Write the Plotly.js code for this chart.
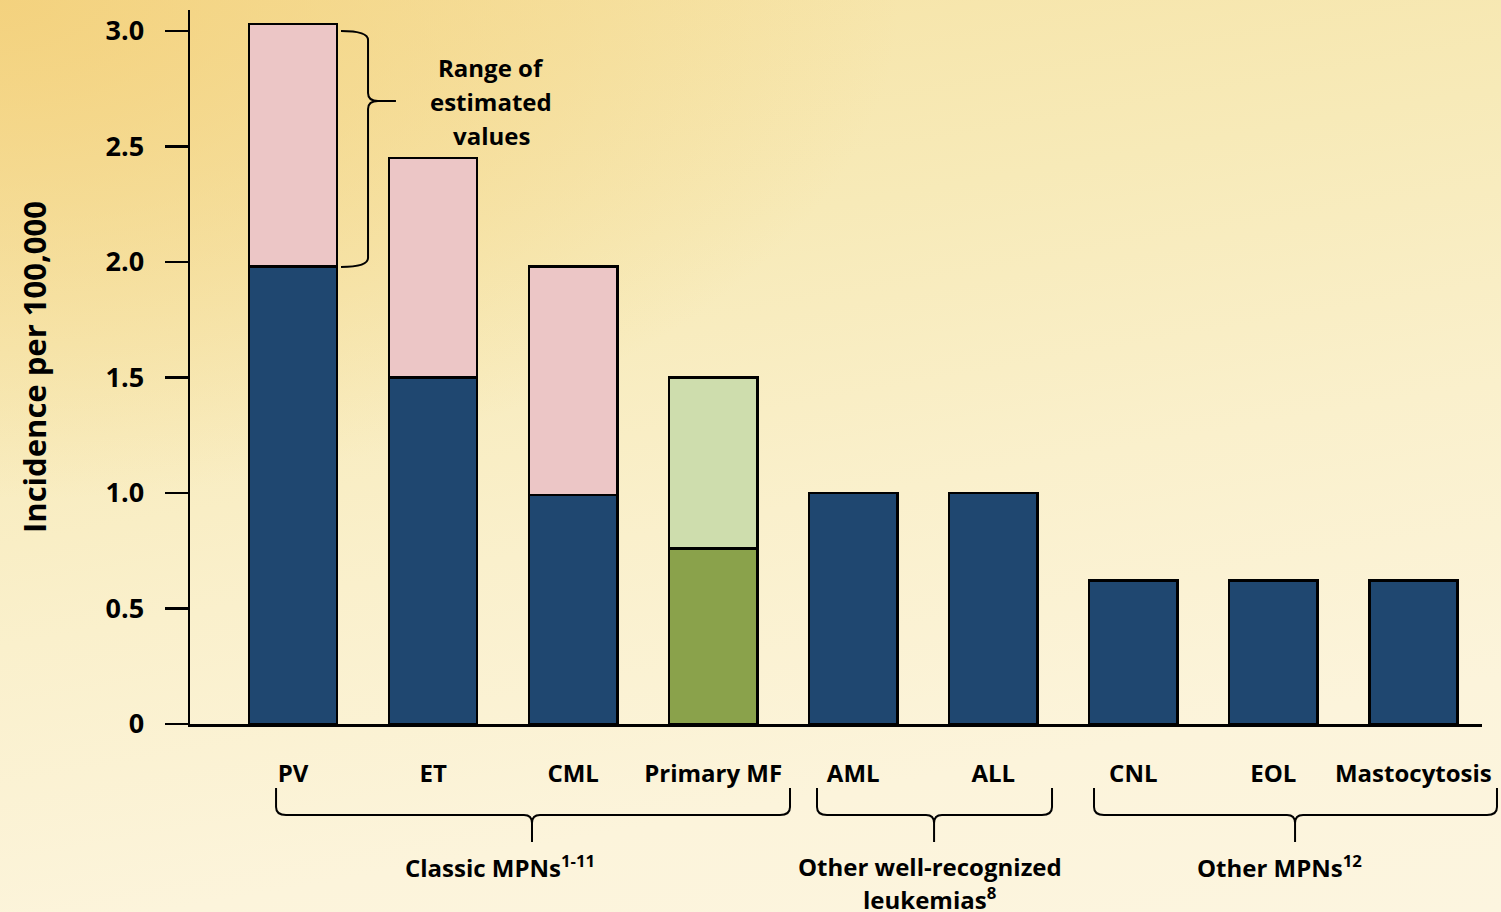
<!DOCTYPE html>
<html>
<head>
<meta charset="utf-8">
<script src="https://cdn.plot.ly/plotly-3.0.1.min.js"></script>
<style>
html,body{margin:0;padding:0;width:1501px;height:912px;overflow:hidden;}
body{
  background:
    radial-gradient(ellipse 900px 500px at 0px 0px, rgba(243,207,120,0.85), rgba(243,207,120,0) 100%),
    linear-gradient(170deg, #F6E2A2 0%, #F7EAB8 30%, #FAF0CC 55%, #FCF4DB 80%, #FCF5DF 100%);
}
#chart{width:1501px;height:912px;}
</style>
</head>
<body>
<div id="chart"></div>
<script>
// ---- data ----
const categories = ['PV', 'ET', 'CML', 'Primary MF', 'AML', 'ALL', 'CNL', 'EOL', 'Mastocytosis'];
const lowEstimate = [1.98, 1.5, 0.99, 0.76, 1.0, 1.0, 0.62, 0.62, 0.62];
const highEstimate = [3.03, 2.45, 1.98, 1.5, null, null, null, null, null];
const yTickVals = [0, 0.5, 1.0, 1.5, 2.0, 2.5, 3.0];
const yTickText = ['0', '0.5', '1.0', '1.5', '2.0', '2.5', '3.0'];
const groupLabels = ['Classic MPNs<sup>1-11</sup>', 'Other well-recognized', 'leukemias<sup>8</sup>', 'Other MPNs<sup>12</sup>'];
const rangeLabelLines = ['Range of', 'estimated', 'values'];

// ---- styles ----
const FONT = '"Open Sans", Lato, sans-serif';
const baseColors = categories.map(c => c === 'Primary MF' ? '#8AA24B' : '#1F4770');
const rangeColors = categories.map(c => c === 'Primary MF' ? '#CEDDAD' : '#ECC6C6');
const rangeSize = highEstimate.map((h, i) => h === null ? null : h - lowEstimate[i]);

const W = 1501, H = 912;
const L = 190, R = 1482, T = 10, B = 724;
const px = x => (x - L) / (R - L);
const py = y => (B - y) / (B - T);
function P(x, y) { return px(x).toFixed(4) + ',' + py(y).toFixed(4); }

function hBrace(x0, x1, xm, yTop, yMid, yTip) {
  return 'M' + P(x0, yTop) + ' L' + P(x0, yMid - 8) + ' Q' + P(x0, yMid) + ' ' + P(x0 + 10, yMid) +
    ' L' + P(xm - 8, yMid) + ' Q' + P(xm, yMid) + ' ' + P(xm, yMid + 8) + ' L' + P(xm, yTip) +
    ' M' + P(xm, yMid + 8) + ' Q' + P(xm, yMid) + ' ' + P(xm + 8, yMid) +
    ' L' + P(x1 - 10, yMid) + ' Q' + P(x1, yMid) + ' ' + P(x1, yMid - 8) + ' L' + P(x1, yTop);
}
function vBrace(x0, xs, xTip, y0, y1, ym) {
  return 'M' + P(x0, y0) + ' Q' + P(xs, y0) + ' ' + P(xs, y0 + 9) + ' L' + P(xs, ym - 8) +
    ' Q' + P(xs, ym) + ' ' + P(xs + 10, ym) + ' L' + P(xTip, ym) +
    ' M' + P(xs + 10, ym) + ' Q' + P(xs, ym) + ' ' + P(xs, ym + 8) + ' L' + P(xs, y1 - 9) +
    ' Q' + P(xs, y1) + ' ' + P(x0, y1);
}

const traces = [
  {
    type: 'bar', x: categories, y: lowEstimate, width: 0.63,
    marker: { color: baseColors, line: { color: '#000', width: 2.5 } },
    hoverinfo: 'x+y', showlegend: false
  },
  {
    type: 'bar', x: categories, y: rangeSize, width: 0.63,
    marker: { color: rangeColors, line: { color: '#000', width: 2.5 } },
    hoverinfo: 'x+y', showlegend: false
  }
];

const shapes = [
  { type: 'path', xref: 'paper', yref: 'paper', path: hBrace(276, 790, 532, 788, 815, 842), line: { color: '#000', width: 2 } },
  { type: 'path', xref: 'paper', yref: 'paper', path: hBrace(817, 1052, 934, 788, 815, 842), line: { color: '#000', width: 2 } },
  { type: 'path', xref: 'paper', yref: 'paper', path: hBrace(1094, 1497, 1295, 788, 815, 842), line: { color: '#000', width: 2 } },
  { type: 'path', xref: 'paper', yref: 'paper', path: vBrace(341, 368, 396, 31, 267, 101), line: { color: '#000', width: 2 } }
];

const annFont = { family: FONT, size: 24, color: '#000', weight: 'bold' };
function ann(text, x, y) {
  return { xref: 'paper', yref: 'paper', x: px(x), y: py(y), text: '<b>' + text + '</b>', showarrow: false,
    font: annFont, xanchor: 'center', yanchor: 'middle', align: 'center', borderpad: 0 };
}
const annotations = [
  ann(rangeLabelLines[0], 491, 67),
  ann(rangeLabelLines[1], 491, 101),
  ann(rangeLabelLines[2], 491, 135),
  ann(groupLabels[0], 500, 866),
  ann(groupLabels[1], 930, 866),
  ann(groupLabels[2], 930, 898),
  ann(groupLabels[3], 1279, 866)
];

const layout = {
  width: W, height: H,
  margin: { l: L, r: W - R, t: T, b: H - B, pad: 0 },
  paper_bgcolor: 'rgba(0,0,0,0)',
  plot_bgcolor: 'rgba(0,0,0,0)',
  barmode: 'stack',
  showlegend: false,
  font: { family: FONT, color: '#000' },
  xaxis: {
    type: 'category',
    range: [-0.736, 8.49],
    showline: true, linecolor: '#000', linewidth: 2.5,
    ticks: '', showgrid: false, zeroline: false,
    tickfont: { family: FONT, size: 24, color: '#000', weight: 'bold' },
    ticklabelstandoff: 27
  },
  yaxis: {
    range: [0, 3.09],
    showline: true, linecolor: '#000', linewidth: 2.5,
    ticks: 'outside', ticklen: 23, tickwidth: 2.5, tickcolor: '#000',
    tickvals: yTickVals, ticktext: yTickText,
    tickfont: { family: FONT, size: 27, color: '#000', weight: 'bold' },
    ticklabelstandoff: 15,
    showgrid: false, zeroline: false,
    title: { text: '<b>Incidence per 100,000</b>', font: { family: FONT, size: 31, color: '#000', weight: 'bold' }, standoff: 50 }
  },
  shapes: shapes,
  annotations: annotations
};

Plotly.newPlot('chart', traces, layout, { displayModeBar: false, staticPlot: true });
</script>
</body>
</html>
